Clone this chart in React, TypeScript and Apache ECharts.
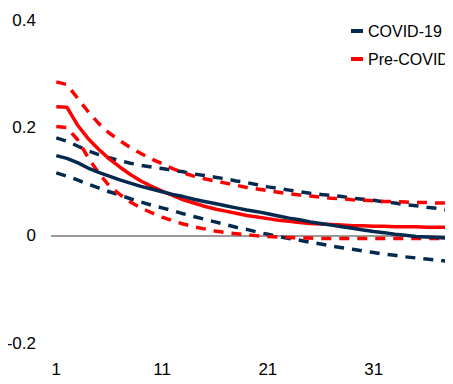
import React, { useEffect, useRef } from "react";
import * as echarts from "echarts";

// Horizon (periods after shock)
const horizons: string[] = Array.from({ length: 38 }, (_, i) => String(i + 1));

const covidMid = [
  0.148, 0.143, 0.135, 0.125, 0.117, 0.110, 0.103, 0.097, 0.091, 0.086,
  0.081, 0.076, 0.072, 0.067, 0.063, 0.059, 0.055, 0.051, 0.047, 0.044,
  0.040, 0.036, 0.032, 0.029, 0.025, 0.022, 0.019, 0.016, 0.013, 0.010,
  0.007, 0.005, 0.002, 0.000, -0.002, -0.003, -0.004, -0.005,
];
const covidUpper = [
  0.181, 0.175, 0.166, 0.157, 0.150, 0.144, 0.139, 0.134, 0.130, 0.127,
  0.124, 0.121, 0.118, 0.114, 0.111, 0.108, 0.105, 0.101, 0.098, 0.094,
  0.090, 0.087, 0.084, 0.081, 0.078, 0.076, 0.074, 0.072, 0.069, 0.067,
  0.065, 0.062, 0.060, 0.057, 0.055, 0.052, 0.050, 0.047,
];
const covidLower = [
  0.116, 0.110, 0.103, 0.095, 0.088, 0.081, 0.075, 0.068, 0.062, 0.056,
  0.051, 0.046, 0.040, 0.035, 0.030, 0.025, 0.020, 0.015, 0.011, 0.006,
  0.002, -0.002, -0.006, -0.009, -0.013, -0.016, -0.020, -0.023, -0.026, -0.029,
  -0.032, -0.035, -0.037, -0.040, -0.042, -0.044, -0.046, -0.048,
];
const preMid = [
  0.239, 0.238, 0.205, 0.180, 0.160, 0.142, 0.127, 0.113, 0.101, 0.091,
  0.082, 0.074, 0.066, 0.060, 0.054, 0.049, 0.045, 0.041, 0.037, 0.034,
  0.031, 0.028, 0.026, 0.024, 0.022, 0.021, 0.020, 0.019, 0.018, 0.018,
  0.017, 0.017, 0.016, 0.016, 0.016, 0.015, 0.015, 0.015,
];
const preUpper = [
  0.285, 0.280, 0.255, 0.230, 0.208, 0.190, 0.176, 0.163, 0.152, 0.142,
  0.133, 0.124, 0.116, 0.110, 0.105, 0.101, 0.097, 0.093, 0.089, 0.086,
  0.083, 0.080, 0.077, 0.075, 0.073, 0.071, 0.069, 0.068, 0.066, 0.065,
  0.064, 0.063, 0.063, 0.062, 0.061, 0.061, 0.060, 0.060,
];
const preLower = [
  0.202, 0.200, 0.178, 0.145, 0.116, 0.092, 0.076, 0.062, 0.051, 0.042,
  0.034, 0.027, 0.021, 0.016, 0.012, 0.008, 0.005, 0.003, 0.001, -0.001,
  -0.002, -0.003, -0.004, -0.005, -0.005, -0.006, -0.006, -0.006, -0.006, -0.006,
  -0.006, -0.006, -0.006, -0.006, -0.006, -0.006, -0.006, -0.006,
];

const NAVY = "#022a4f";
const RED = "#ff0000";
const FONT = "'Liberation Sans', Arial, sans-serif";
const FONT_SIZE = 17;

export default function App() {
  const ref = useRef<HTMLDivElement>(null);

  useEffect(() => {
    if (!ref.current) return;
    const chart = echarts.init(ref.current, undefined, { renderer: "svg" });

    const solid = (name: string, data: number[], color: string, extra: any = {}) => ({
      name,
      type: "line",
      data,
      color,
      symbol: "none",
      lineStyle: { color, width: 3.5, type: "solid" },
      z: 3,
      ...extra,
    });
    const dashed = (name: string, data: number[], color: string) => ({
      name,
      type: "line",
      data,
      color,
      symbol: "none",
      lineStyle: { color, width: 3.5, type: [10, 8] },
      z: 2,
    });

    chart.setOption({
      animation: false,
      backgroundColor: "#ffffff",
      grid: { left: 51, right: -5, top: 20, bottom: 41 },
      legend: {
        data: ["COVID-19", "Pre-COVID"],
        orient: "vertical",
        left: 351,
        top: 23,
        padding: 0,
        itemWidth: 12,
        itemHeight: 4,
        itemGap: 12,
        icon: "rect",
        textStyle: {
          fontFamily: FONT,
          fontSize: 16,
          color: "#000",
        },
      },
      xAxis: {
        type: "category",
        data: horizons,
        boundaryGap: true,
        axisLine: { show: false, onZero: false },
        axisTick: { show: false },
        splitLine: { show: false },
        axisLabel: {
          interval: 9,
          margin: 18,
          color: "#000",
          fontFamily: FONT,
          fontSize: FONT_SIZE,
        },
      },
      yAxis: {
        type: "value",
        min: -0.2,
        max: 0.4,
        interval: 0.2,
        axisLine: { show: false },
        axisTick: { show: false },
        splitLine: { show: false },
        axisLabel: {
          margin: 15,
          color: "#000",
          fontFamily: FONT,
          fontSize: FONT_SIZE,
        },
      },
      series: [
        dashed("COVID-19 upper", covidUpper, NAVY),
        dashed("COVID-19 lower", covidLower, NAVY),
        dashed("Pre-COVID upper", preUpper, RED),
        dashed("Pre-COVID lower", preLower, RED),
        solid("Pre-COVID", preMid, RED),
        solid("COVID-19", covidMid, NAVY, {
          markLine: {
            silent: true,
            symbol: "none",
            label: { show: false },
            lineStyle: { color: "#7a7a7a", width: 1.5, type: "solid" },
            data: [{ yAxis: 0 }],
            z: 1,
          },
        }),
      ],
    });

    return () => chart.dispose();
  }, []);

  return <div ref={ref} style={{ width: 453, height: 384, marginLeft: -8, marginTop: -8 }} />;
}
